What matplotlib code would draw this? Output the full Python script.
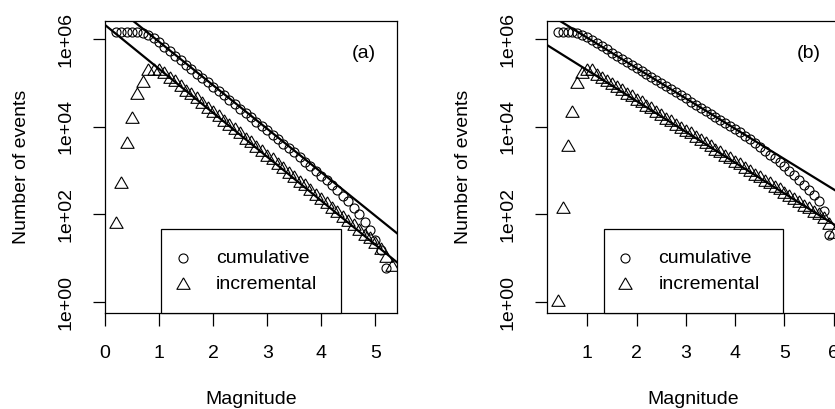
import numpy as np
import matplotlib
matplotlib.use("Agg")
import matplotlib.pyplot as plt
from matplotlib.patches import Rectangle

plt.rcParams['font.family'] = ['Liberation Sans', 'DejaVu Sans']
plt.rcParams['font.size'] = 14

# panel (a): magnitudes and log10 counts
mag_a_cum = np.round(np.arange(2, 53) * 0.1, 1)
log_a_cum = [6.17, 6.17, 6.17, 6.17, 6.16, 6.14, 6.10, 6.03, 5.93, 5.83,
             5.73, 5.63, 5.53, 5.42, 5.32, 5.22, 5.12, 5.02, 4.92, 4.82,
             4.72, 4.62, 4.52, 4.42, 4.32, 4.22, 4.12, 4.02, 3.92, 3.82,
             3.72, 3.62, 3.52, 3.42, 3.31, 3.21, 3.10, 3.00, 2.89, 2.78,
             2.67, 2.55, 2.43, 2.30, 2.15, 2.00, 1.84, 1.65, 1.42, 1.20,
             0.78]
mag_a_inc = np.round(np.arange(2, 54) * 0.1, 1)
log_a_inc = [1.78, 2.69, 3.62, 4.17, 4.74, 5.00, 5.28, 5.28, 5.27, 5.22,
             5.10, 5.03, 4.92, 4.80, 4.72, 4.63, 4.52, 4.42, 4.31, 4.23,
             4.12, 4.03, 3.93, 3.83, 3.71, 3.64, 3.52, 3.43, 3.32, 3.24,
             3.12, 3.03, 2.93, 2.84, 2.72, 2.64, 2.53, 2.42, 2.33, 2.24,
             2.12, 2.03, 1.93, 1.84, 1.73, 1.63, 1.52, 1.43, 1.33, 1.20,
             1.00, 0.81]
fit_a_cum = (6.94, -0.994)
fit_a_inc = (6.33, -1.004)

# panel (b)
mag_b_cum = np.round(np.arange(4, 60) * 0.1, 1)
log_b_cum = [6.17, 6.17, 6.17, 6.16, 6.14, 6.11, 6.06, 5.99, 5.91, 5.84,
             5.77, 5.70, 5.63, 5.56, 5.49, 5.42, 5.35, 5.28, 5.21, 5.14,
             5.07, 5.00, 4.93, 4.86, 4.79, 4.72, 4.65, 4.58, 4.51, 4.44,
             4.37, 4.30, 4.23, 4.16, 4.09, 4.02, 3.95, 3.88, 3.80, 3.72,
             3.64, 3.55, 3.46, 3.37, 3.28, 3.19, 3.10, 3.00, 2.90, 2.79,
             2.68, 2.56, 2.45, 2.30, 2.08, 1.53]
mag_b_inc = np.round(np.arange(4, 61) * 0.1, 1)
log_b_inc = [0.00, 2.12, 3.55, 4.31, 4.97, 5.21, 5.28, 5.27, 5.16, 5.10,
             5.02, 4.96, 4.89, 4.82, 4.74, 4.69, 4.60, 4.54, 4.46, 4.40,
             4.31, 4.25, 4.16, 4.11, 4.03, 3.96, 3.88, 3.83, 3.74, 3.68,
             3.60, 3.54, 3.46, 3.40, 3.31, 3.26, 3.17, 3.12, 3.03, 2.97,
             2.89, 2.83, 2.75, 2.69, 2.60, 2.55, 2.46, 2.41, 2.32, 2.26,
             2.18, 2.12, 2.04, 1.98, 1.89, 1.75, 1.55]
fit_b_cum = (6.73, -0.693)
fit_b_inc = (6.00, -0.704)

ytick_pos = [1, 1e2, 1e4, 1e6]
ytick_lab = ['1e+00', '1e+02', '1e+04', '1e+06']

tri = [(0, 1.555), (1.347, -0.778), (-1.347, -0.778), (0, 1.555)]


def panel(ax, mc, lc, mi, li, fc, fi, xlim, xticks, tag, tagx):
    ax.set_yscale('log')
    ax.plot(mc, 10 ** np.array(lc), 'o', ms=6.5, mfc='none', mec='black', mew=0.8)
    ax.plot(mi, 10 ** np.array(li), marker=tri, ls='none', ms=11,
            mfc='none', mec='black', mew=0.8)
    xx = np.array([xlim[0] - 1, xlim[1] + 1])
    for a, b in (fc, fi):
        ax.plot(xx, 10 ** (a + b * xx), color='black', lw=1.6)
    ax.set_xlim(xlim)
    ax.set_ylim(10 ** -0.25, 10 ** 6.42)
    ax.set_xticks(xticks)
    ax.set_yticks(ytick_pos)
    ax.set_yticklabels(ytick_lab, rotation=90, va='center')
    ax.minorticks_off()
    ax.tick_params(length=9, width=0.9, direction='out')
    ax.tick_params(axis='x', pad=14)
    ax.tick_params(axis='y', pad=13)
    for s in ax.spines.values():
        s.set_linewidth(0.9)
    ax.set_xlabel('Magnitude', labelpad=21)
    ax.set_ylabel('Number of events', labelpad=20)
    ax.text(tagx, 0.89, tag, transform=ax.transAxes, ha='center', va='center')
    # legend box in the R style
    ax.add_patch(Rectangle((0.193, 0), 0.614, 0.287, transform=ax.transAxes,
                           facecolor='white', edgecolor='black', lw=0.9,
                           zorder=5, clip_on=False))
    ax.plot([0.267], [0.187], 'o', ms=6.5, mfc='none', mec='black', mew=0.8,
            transform=ax.transAxes, zorder=6)
    ax.plot([0.267], [0.096], marker=tri, ms=11, mfc='none', mec='black',
            mew=0.8, transform=ax.transAxes, zorder=6)
    ax.text(0.38, 0.187, 'cumulative', transform=ax.transAxes, va='center', zorder=6)
    ax.text(0.38, 0.096, 'incremental', transform=ax.transAxes, va='center', zorder=6)


fig = plt.figure(figsize=(8.35, 4.09), dpi=100)
ax1 = fig.add_axes([0.1257, 0.2347, 0.3497, 0.714])
ax2 = fig.add_axes([0.6555, 0.2347, 0.3497, 0.714])

panel(ax1, mag_a_cum, log_a_cum, mag_a_inc, log_a_inc, fit_a_cum, fit_a_inc,
      (0, 5.4), [0, 1, 2, 3, 4, 5], '(a)', 0.887)
panel(ax2, mag_b_cum, log_b_cum, mag_b_inc, log_b_inc, fit_b_cum, fit_b_inc,
      (0.19, 6.113), [1, 2, 3, 4, 5, 6], '(b)', 0.896)

fig.savefig('out.png', dpi=100)
